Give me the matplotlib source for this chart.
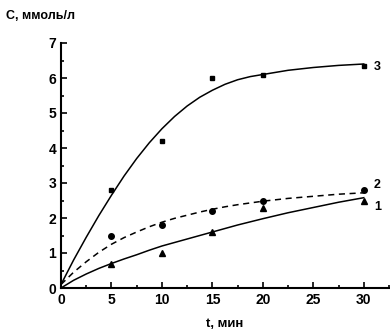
import matplotlib
matplotlib.use("Agg")
import matplotlib.pyplot as plt
from matplotlib.ticker import MultipleLocator

plt.rcParams["font.family"] = ["Liberation Sans", "DejaVu Sans"]
plt.rcParams["font.weight"] = "bold"

# measured points
t_pts = [5, 10, 15, 20, 30]
c1_pts = [0.7, 1.0, 1.6, 2.3, 2.5]
c2_pts = [1.5, 1.8, 2.2, 2.5, 2.8]
c3_pts = [2.8, 4.2, 6.0, 6.1, 6.35]

# fitted curves
t_fit = [0, 1.25, 2.5, 3.75, 5, 6.25, 7.5, 8.75, 10, 11.25, 12.5, 13.75, 15,
         16.25, 17.5, 18.75, 20, 22.5, 25, 27.5, 30]
c1_fit = [0.0, 0.22, 0.4, 0.56, 0.7, 0.83, 0.95, 1.08, 1.2, 1.3, 1.4, 1.5, 1.6,
          1.7, 1.8, 1.89, 1.98, 2.15, 2.3, 2.45, 2.58]
c2_fit = [0.1, 0.45, 0.75, 1.02, 1.25, 1.44, 1.6, 1.75, 1.88, 1.99, 2.08, 2.17, 2.25,
          2.32, 2.38, 2.43, 2.48, 2.56, 2.62, 2.68, 2.72]
c3_fit = [0.1, 0.8, 1.45, 2.07, 2.65, 3.2, 3.7, 4.15, 4.55, 4.9, 5.2, 5.45, 5.65,
          5.82, 5.95, 6.04, 6.1, 6.22, 6.3, 6.36, 6.4]

fig = plt.figure(figsize=(3.9, 3.34), dpi=100)
ax = fig.add_axes([61 / 390, 46 / 334, 328 / 390, 245 / 334])

ax.plot(t_fit, c3_fit, color="black", lw=1.1)
ax.plot(t_fit, c2_fit, color="black", lw=1.1, ls=(0, (4, 3)))
ax.plot(t_fit, c1_fit, color="black", lw=1.1)
ax.plot(t_pts, c3_pts, "s", color="black", ms=3.5)
ax.plot(t_pts, c2_pts, "o", color="black", ms=4)
ax.plot(t_pts, c1_pts, "^", color="black", ms=4.5)

ax.text(31.0, 6.3, "3", fontsize=9, fontweight="bold", va="center")
ax.text(31.0, 2.95, "2", fontsize=9, fontweight="bold", va="center")
ax.text(31.0, 2.3, "1", fontsize=9, fontweight="bold", va="center")

ax.set_xlim(0, 32.5)
ax.set_ylim(0, 7)
ax.xaxis.set_major_locator(MultipleLocator(5))
ax.xaxis.set_minor_locator(MultipleLocator(2.5))
ax.yaxis.set_major_locator(MultipleLocator(1))
ax.yaxis.set_minor_locator(MultipleLocator(0.5))
ax.tick_params(which="both", direction="in", width=1.2, labelsize=10)
ax.tick_params(which="major", length=4)
ax.tick_params(which="minor", length=2.5)
for side in ["top", "right"]:
    ax.spines[side].set_visible(False)
for side in ["left", "bottom"]:
    ax.spines[side].set_linewidth(1.5)
for lab in ax.get_xticklabels() + ax.get_yticklabels():
    lab.set_fontweight("bold")

fig.text(6 / 390, 1 - 16 / 334, "С, ммоль/л", fontsize=9, fontweight="bold", va="center")
fig.text(225 / 390, 1 - 324 / 334, "t, мин", fontsize=9.5, fontweight="bold", ha="center", va="center")

fig.savefig("out.png", dpi=100)
